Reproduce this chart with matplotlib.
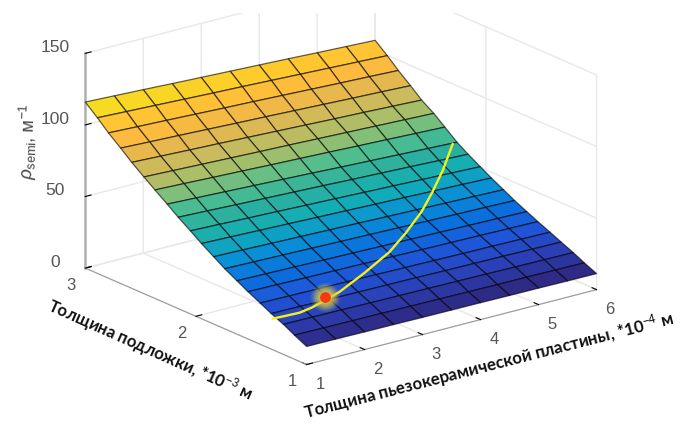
import matplotlib
matplotlib.use("Agg")
import numpy as np
import matplotlib.pyplot as plt
from matplotlib.colors import LinearSegmentedColormap
from matplotlib.patches import Rectangle

plt.rcParams['font.family'] = ['Liberation Sans', 'DejaVu Sans']
plt.rcParams['mathtext.fontset'] = 'custom'
plt.rcParams['mathtext.rm'] = 'Liberation Sans'
plt.rcParams['mathtext.it'] = 'Liberation Sans:italic'

# piezo plate thickness (*10^-4 m), substrate thickness (*10^-3 m)
plate = [1, 1.5, 2, 2.5, 3, 3.5, 4, 4.5, 5, 5.5, 6]
substrate = [3.00, 2.89, 2.79, 2.68, 2.58, 2.47, 2.37, 2.26, 2.16, 2.05,
             1.95, 1.84, 1.74, 1.63, 1.53, 1.42, 1.32, 1.21, 1.11, 1.00]
rho = [
    [116, 115.1, 114.2, 113.2, 112.3, 111.4, 110.5, 109.6, 108.6, 107.7, 106.8],
    [108.7, 107.8, 106.9, 106.0, 105.1, 104.3, 103.4, 102.5, 101.6, 100.7, 99.8],
    [101.5, 100.6, 99.8, 98.9, 98.0, 97.2, 96.3, 95.4, 94.5, 93.7, 92.8],
    [94.6, 93.7, 92.9, 92.0, 91.1, 90.3, 89.4, 88.5, 87.6, 86.8, 85.9],
    [88, 87.1, 86.2, 85.4, 84.5, 83.6, 82.7, 81.8, 81, 80.1, 79.2],
    [81.5, 80.7, 79.9, 79.1, 78.3, 77.6, 76.8, 76, 75.2, 74.4, 73.6],
    [75.8, 75, 74.1, 73.3, 72.4, 71.6, 70.8, 69.9, 69.1, 68.2, 67.4],
    [69.6, 68.7, 67.8, 66.9, 66, 65.1, 64.1, 63.2, 62.3, 61.4, 60.5],
    [63.8, 63, 62.1, 61.3, 60.5, 59.7, 58.8, 58, 57.2, 56.3, 55.5],
    [58, 57.3, 56.5, 55.8, 55, 54.3, 53.5, 52.8, 52, 51.3, 50.5],
    [52.5, 51.9, 51.2, 50.6, 49.9, 49.3, 48.6, 48, 47.3, 46.7, 46],
    [47, 46.5, 45.9, 45.4, 44.8, 44.3, 43.7, 43.2, 42.6, 42.1, 41.5],
    [42, 41.5, 41.1, 40.6, 40.1, 39.7, 39.2, 38.7, 38.2, 37.8, 37.3],
    [37.3, 36.9, 36.5, 36.1, 35.7, 35.3, 34.9, 34.5, 34.1, 33.7, 33.3],
    [33, 32.7, 32.3, 32, 31.7, 31.4, 31, 30.7, 30.4, 30, 29.7],
    [28.8, 28.5, 28.2, 28, 27.7, 27.4, 27.1, 26.8, 26.6, 26.3, 26],
    [24.8, 24.6, 24.3, 24.1, 23.9, 23.7, 23.4, 23.2, 23, 22.7, 22.5],
    [21, 20.8, 20.6, 20.3, 20.1, 19.9, 19.7, 19.5, 19.2, 19, 18.8],
    [16.8, 16.6, 16.4, 16.3, 16.1, 15.9, 15.7, 15.5, 15.4, 15.2, 15],
    [12.6, 12.5, 12.3, 12.2, 12, 11.9, 11.8, 11.6, 11.5, 11.3, 11.2],
]

# yellow optimum curve
curve_x = [1, 1.155, 1.395, 1.62, 1.885, 2.25, 2.86, 3.5, 3.99, 4.5, 4.88, 5.375, 6]
curve_y = [1.306, 1.28, 1.27, 1.28, 1.30, 1.356, 1.45, 1.56, 1.67, 1.796, 1.90, 2.06, 2.30]
curve_z = [21.8, 22.8, 23, 23.8, 25.3, 25.8, 29.5, 33.7, 38.1, 43.2, 49, 54.4, 57.9]

# red point
point_x, point_y, point_z = 2.0, 1.36, 24.5

surface_colors = ['#2E2A85', '#2B3FB5', '#1F55D8', '#0A70DD', '#0A8FD5', '#12AEB6',
                  '#2BAF9F', '#4FBE8F', '#9BBF6D', '#C8BB5E', '#E6B84E', '#FDBB3D',
                  '#FFC630', '#F5E01E']
cmap = LinearSegmentedColormap.from_list('parula_like', surface_colors)

fig = plt.figure(figsize=(6.81, 4.24), dpi=100)
ax = fig.add_axes([60 / 681, -28.4 / 424, 547 / 681, 547 / 424], projection='3d',
                  proj_type='ortho', computed_zorder=False)
ax.patch.set_alpha(0)
ax.view_init(elev=19.6, azim=-127.6)
ax.set_box_aspect((366, 363, 228))

X, Y = np.meshgrid(plate, substrate)
Z = np.array(rho)
ax.plot_surface(X, Y, Z, cmap=cmap, rstride=1, cstride=1, vmin=13, vmax=113.5,
                edgecolor=(0, 0, 0, 0.62), linewidth=0.9, shade=False, zorder=1)
ax.plot(curve_x, curve_y, curve_z, color='#F6F01A', lw=1.7, zorder=3)

# glow around the point
for size, alpha in zip([440, 340, 250, 170, 100], [0.14, 0.22, 0.30, 0.38, 0.45]):
    ax.scatter([point_x], [point_y], [point_z], s=size, color='#DCCB45', alpha=alpha,
               linewidths=0, depthshade=False, zorder=4)
ax.scatter([point_x], [point_y], [point_z], s=60, color='#F53A10', linewidths=0,
           depthshade=False, zorder=5)

ax.set_xlim(1, 6)
ax.set_ylim(1, 3)
ax.set_zlim(0, 150)
ax.set_xticks([1, 2, 3, 4, 5, 6])
ax.set_yticks([1, 2, 3])
ax.set_zticks([0, 50, 100, 150])

for axis in (ax.xaxis, ax.yaxis, ax.zaxis):
    axis.set_pane_color((1, 1, 1, 0))
    axis.pane.set_edgecolor('#e8e8e8')
    axis.line.set_color('#9a9a9a')
    axis._axinfo['grid']['color'] = '#e8e8e8'
    axis._axinfo['grid']['linewidth'] = 1.0
    axis._axinfo['tick']['color'] = '#8a8a8a'
    axis._axinfo['tick']['inward_factor'] = 0.0
    axis._axinfo['tick']['outward_factor'] = 0.25
ax.zaxis.line.set_linewidth(1.8)
ax.zaxis.line.set_color('#b0b0b0')
ax.tick_params(axis='x', labelsize=12, labelcolor='#555555', pad=0)
ax.tick_params(axis='y', labelsize=12, labelcolor='#555555', pad=-1)
ax.tick_params(axis='z', labelsize=12.5, labelcolor='#555555', pad=4)
for label in ax.get_zticklabels():
    label.set_va('baseline')
for label in ax.get_xticklabels():
    label.set_ha('left')
for label in ax.get_yticklabels():
    label.set_ha('right')

# the source picture is cropped above this line
fig.add_artist(Rectangle((0, 1 - 13 / 424), 1, 13 / 424, transform=fig.transFigure,
                         facecolor='white', edgecolor='none', zorder=10))

fig.text(28 / 681, 1 - 142 / 424, r'$\mathit{\rho}_{\mathrm{semi}}$, м$^{\mathrm{-1}}$', rotation=88, fontsize=13,
         color='#444444', ha='center', va='center')
fig.text(150 / 681, 1 - 350 / 424, 'Толщина подложки, *10$^{\\mathrm{-3}}$ м', rotation=-24, fontsize=12,
         fontweight='bold', fontname='Lato', color='#111111',
         ha='center', va='center', rotation_mode='anchor')
fig.text(489 / 681, 1 - 366 / 424, 'Толщина пьезокерамической пластины, *10$^{\\mathrm{-4}}$ м', rotation=14.4,
         fontsize=12.2, fontweight='bold', fontname='Lato', color='#111111',
         ha='center', va='center', rotation_mode='anchor')

fig.savefig('out.png', dpi=100)
